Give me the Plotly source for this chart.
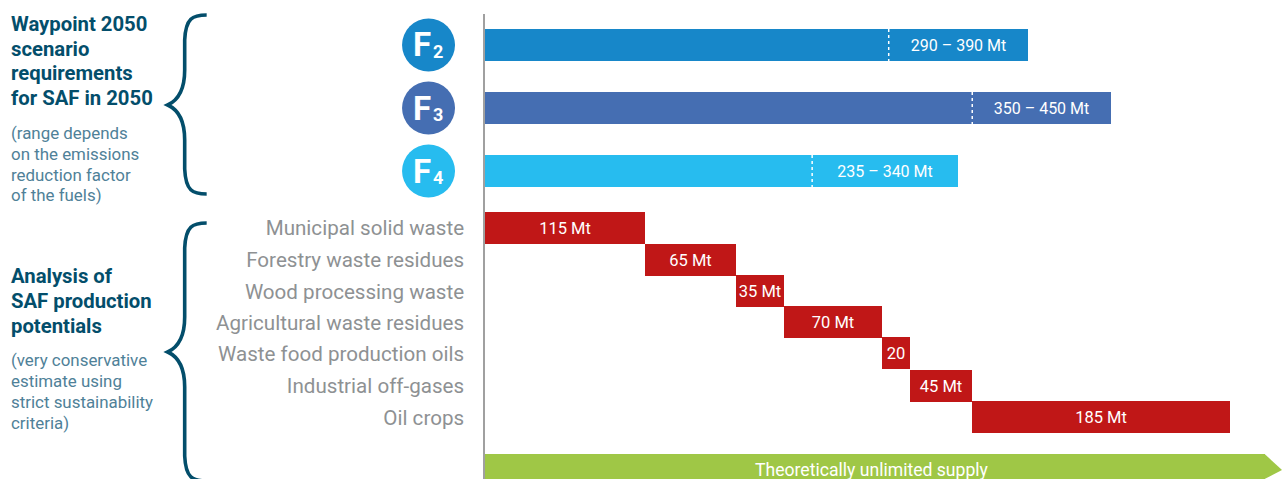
import plotly.graph_objects as go

# ---- data ----
scenario_names = ["F2", "F3", "F4"]
scenario_low = [290, 350, 235]
scenario_high = [390, 450, 340]
scenario_labels = ["290 – 390 Mt", "350 – 450 Mt", "235 – 340 Mt"]

source_names = ["Municipal solid waste", "Forestry waste residues", "Wood processing waste",
                "Agricultural waste residues", "Waste food production oils",
                "Industrial off-gases", "Oil crops"]
source_values = [115, 65, 35, 70, 20, 45, 185]
source_labels = ["115 Mt", "65 Mt", "35 Mt", "70 Mt", "20", "45 Mt", "185 Mt"]

ptl_name = "Power-to-Liquid*"
ptl_value = 560
ptl_label = "Theoretically unlimited supply"

# ---- layout constants ----
W, H = 1282, 479
X0, Y0 = 484.5, 14
PX_PER_MT = 1.393
scenario_rows = [45, 108, 171]
source_rows = [228, 260, 291, 322, 353, 385.5, 417]
label_rows = [227.5, 260, 292, 323, 354, 386, 418]
ptl_row = 470
BAR_H = 32
FONT = "Roboto"
scen_colors = ["#1787C9", "#456EB2", "#27BCEF"]
RED, GREEN, NAVY, NOTE, GREY = "#C01717", "#9FC746", "#034E6B", "#4F8198", "#8E9193"


def px(x):
    return (x - X0) / (W - X0)


def py(y):
    return 1 - (y - Y0) / (H - Y0)


def P(x, y):
    return f"{px(x):.5f},{py(y):.5f}"


def brace(top, tip, bottom):
    return (f"M{P(206, top)} C{P(192, top)} {P(185, top + 3)} {P(184, top + 25)} "
            f"L{P(184, tip - 35)} C{P(184, tip - 15)} {P(178, tip - 5)} {P(167, tip)} "
            f"C{P(178, tip + 5)} {P(184, tip + 15)} {P(184, tip + 35)} "
            f"L{P(184, bottom - 25)} C{P(185, bottom - 3)} {P(192, bottom)} {P(206, bottom)}")


fig = go.Figure()

# scenario bars: two stacked parts, label on the range part
fig.add_trace(go.Bar(y=scenario_rows, x=scenario_low, base=0, orientation="h", width=BAR_H,
                     marker=dict(color=scen_colors, line_width=0), hoverinfo="skip"))
fig.add_trace(go.Bar(y=scenario_rows, x=[h - l for h, l in zip(scenario_high, scenario_low)],
                     base=scenario_low, orientation="h", width=BAR_H,
                     marker=dict(color=scen_colors, line_width=0),
                     text=scenario_labels, textposition="inside", insidetextanchor="middle",
                     textangle=0, constraintext="none",
                     textfont=dict(color="white", size=16, family=FONT)))

# waterfall of production potentials
bases = []
running = 0
for v in source_values:
    bases.append(running)
    running += v
fig.add_trace(go.Bar(y=source_rows, x=source_values, base=bases, orientation="h", width=BAR_H,
                     marker=dict(color=RED, line_width=0),
                     text=source_labels, textposition="inside", insidetextanchor="middle",
                     textangle=0, constraintext="none",
                     textfont=dict(color="white", size=16.5, family=FONT)))

# green arrow body
fig.add_trace(go.Bar(y=[ptl_row], x=[ptl_value], base=0, orientation="h", width=BAR_H,
                     marker=dict(color=GREEN, line_width=0), hoverinfo="skip"))

shapes = []
# dashed split lines
for low, row in zip(scenario_low, scenario_rows):
    shapes.append(dict(type="line", xref="x", yref="y", x0=low, x1=low,
                       y0=row - BAR_H / 2, y1=row + BAR_H / 2,
                       line=dict(color="white", width=1.5, dash="3px,3px")))
# arrow head
ah = X0 + ptl_value * PX_PER_MT
shapes.append(dict(type="path", xref="paper", yref="paper", fillcolor=GREEN, line_width=0,
                   path=f"M{P(ah - 1, 454)} L{P(ah, 454)} L{P(1282, 470)} L{P(ah, 479)} L{P(ah - 1, 479)} Z"))
# braces
for top, tip, bottom in [(15, 105, 194), (223, 352, 481)]:
    shapes.append(dict(type="path", xref="paper", yref="paper", path=brace(top, tip, bottom),
                       line=dict(color=NAVY, width=3.6)))
# badges
for row, c in zip(scenario_rows, scen_colors):
    shapes.append(dict(type="circle", xref="paper", yref="paper", fillcolor=c, line_width=0,
                       x0=px(401.5), x1=px(454.5), y0=py(row + 26.4), y1=py(row - 26.4)))

annotations = []


def note(x, centers, lines, size, color, bold=False):
    for y, line in zip(centers, lines):
        annotations.append(dict(xref="paper", yref="paper", x=px(x), y=py(y), xanchor="left",
                                yanchor="middle", align="left", showarrow=False, text=line,
                                borderpad=0, font=dict(family=FONT, size=size, color=color,
                                                       weight="bold" if bold else "normal")))


note(9, [24, 48.5, 73, 98], ["Waypoint 2050", "scenario", "requirements", "for SAF in 2050"], 20.3, NAVY, True)
note(9, [133, 154, 174.5, 195], ["(range depends", "on the emissions", "reduction factor", "of the fuels)"], 16.9, NOTE)
note(9, [276, 301, 326], ["Analysis of", "SAF production", "potentials"], 20.3, NAVY, True)
note(9, [360, 381, 402, 423], ["(very conservative", "estimate using", "strict sustainability", "criteria)"], 16.9, NOTE)

annotations.append(dict(xref="paper", yref="paper", x=px(871.5), y=py(ptl_row), xanchor="center",
                        yanchor="middle", showarrow=False, text=ptl_label, borderpad=0,
                        font=dict(family=FONT, size=17.6, color="white")))

for name, row in zip(scenario_names, scenario_rows):
    annotations.append(dict(xref="paper", yref="paper", x=px(421.5), y=py(row), xanchor="center",
                            yanchor="middle", showarrow=False, text=name[0], borderpad=0,
                            font=dict(family=FONT, size=33, color="white", weight="bold")))
    annotations.append(dict(xref="paper", yref="paper", x=px(437.5), y=py(row + 6), xanchor="center",
                            yanchor="middle", showarrow=False, text=name[1], borderpad=0,
                            font=dict(family=FONT, size=18, color="white", weight="bold")))

fig.update_layout(
    width=W, height=H, margin=dict(l=X0, r=0, t=Y0, b=0, pad=0),
    paper_bgcolor="white", plot_bgcolor="white", showlegend=False, barmode="overlay",
    bargap=0, shapes=shapes, annotations=annotations,
    xaxis=dict(range=[0, (W - X0) / PX_PER_MT], visible=False, fixedrange=True),
    yaxis=dict(range=[H, Y0], showgrid=False, zeroline=False, showline=True, linecolor="#A0A0A0",
               linewidth=1.5, ticks="outside", ticklen=15, tickcolor="rgba(0,0,0,0)",
               tickvals=label_rows + [ptl_row], ticktext=source_names + [ptl_name],
               tickfont=dict(family=FONT, size=20.6, color=GREY), fixedrange=True),
)

fig.write_html("out.html", config=dict(displayModeBar=False),
               post_script="document.body.style.margin='0';document.documentElement.style.overflow='hidden';")
